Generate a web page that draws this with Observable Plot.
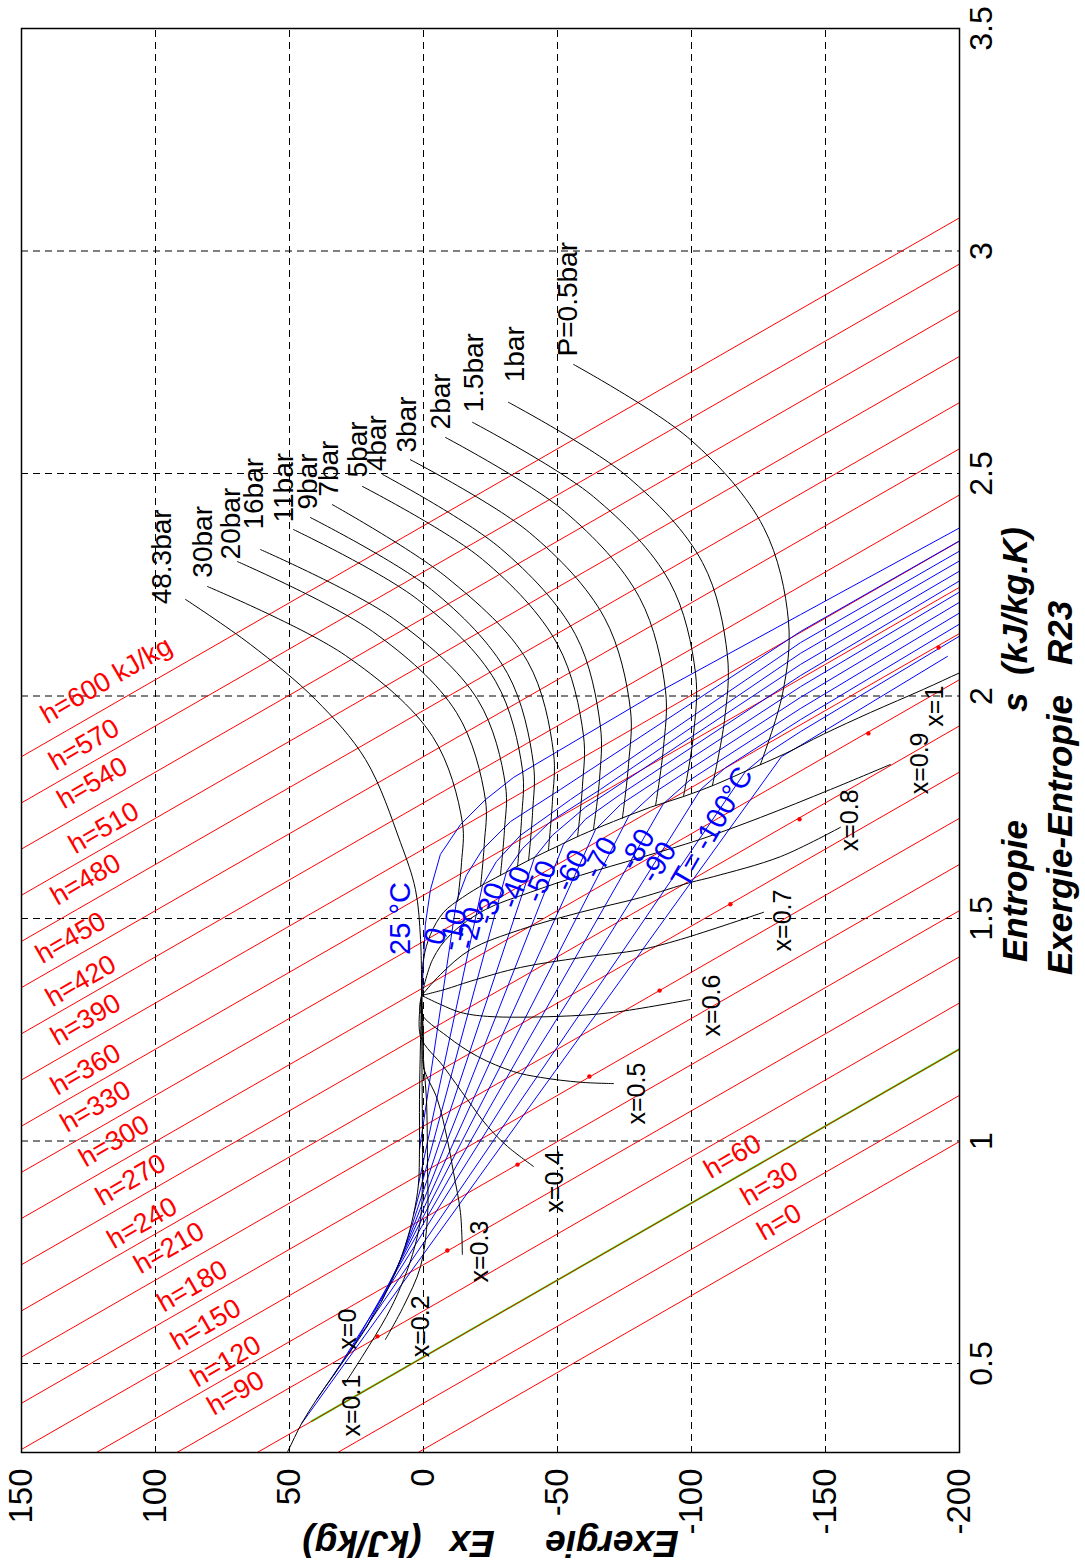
<!DOCTYPE html>
<html><head><meta charset="utf-8">
<script src="https://cdn.jsdelivr.net/npm/d3@7"></script>
<script src="https://cdn.jsdelivr.net/npm/@observablehq/plot@0.6"></script>
<style>
html,body{margin:0;padding:0;background:#fff;}
body{width:1085px;height:1565px;overflow:hidden;position:relative;font-family:"Liberation Sans",Arial,sans-serif;}
#rot{position:absolute;left:0;top:0;width:1565px;height:1085px;transform-origin:0 0;transform:translate(0px,1565px) rotate(-90deg);}
#rot svg{position:absolute;left:0;top:0;}
.ttl{position:absolute;font-weight:bold;font-style:italic;font-size:35px;white-space:pre;color:#000;line-height:1;}
</style></head><body>
<div id="rot"></div>
<script>
// ---------- axes ----------
const sTicks = [0.5, 1, 1.5, 2, 2.5, 3, 3.5];
const exTicks = [-200, -150, -100, -50, 0, 50, 100, 150];

// ---------- isenthalps (straight lines, Ex at s=0.3 and s=3.5) ----------
const hLevels = [0,30,60,90,120,150,180,210,240,270,300,330,360,390,420,450,480,510,540,570,600];
const hExAtLowS = [2,32,62,92,122,152,182,212,242,272,302,332,362,392,422,452,482,512,542,572,602];
const hExAtHighS = [-923,-893,-863,-833,-803,-773,-743,-713,-683,-653,-623,-593,-563,-533,-503,-473,-443,-413,-383,-353,-323];
const hLowS = 0.3, hHighS = 3.5;
const hLabels = ["h=0","h=30","h=60","h=90","h=120","h=150","h=180","h=210","h=240","h=270","h=300","h=330","h=360","h=390","h=420","h=450","h=480","h=510","h=540","h=570","h=600 kJ/kg"];
const hLabelS = [0.775,0.853,0.914,0.382,0.445,0.528,0.614,0.700,0.756,0.853,0.940,1.018,1.101,1.213,1.300,1.397,1.528,1.644,1.745,1.831,1.936];
const hLabelEx = [-127.0,-120.8,-107.1,78.3,84.4,91.9,96.9,105.6,115.6,119.9,126.1,133.0,136.7,136.7,138.5,142.3,136.7,129.9,134.2,137.3,140.4];
const greenS = [0.37, 1.21];
const greenEx = [41.8, -201.0];

// ---------- isobars [s, Ex] ----------
const p0_5 = [[2.745,-56.0],[2.576,-99.6],[2.379,-126.9],[2.167,-136.2],[2.006,-134.0],[1.846,-125.7]];
const p1   = [[2.660,-31.7],[2.493,-76.1],[2.300,-104.1],[2.091,-113.4],[1.945,-112.3],[1.799,-107.8]];
const p1_5 = [[2.615,-18.3],[2.448,-63.4],[2.257,-91.8],[2.051,-101.5],[1.911,-100.7],[1.774,-97.0]];
const p2   = [[2.581,-8.2],[2.415,-52.6],[2.221,-80.6],[2.012,-90.3],[1.882,-89.5],[1.754,-86.6]];
const p3   = [[2.531,4.9],[2.367,-39.6],[2.176,-67.5],[1.970,-77.2],[1.846,-76.5],[1.725,-74.2]];
const p4   = [[2.498,15.3],[2.332,-28.7],[2.138,-56.7],[1.932,-66.0],[1.815,-65.7],[1.700,-63.4]];
const p5   = [[2.471,22.8],[2.307,-22.0],[2.116,-50.0],[1.911,-59.7],[1.797,-59.3],[1.684,-57.5]];
const p7   = [[2.430,34.0],[2.266,-8.8],[2.078,-38.8],[1.873,-48.5],[1.763,-48.1],[1.653,-46.6]];
const p9   = [[2.401,42.2],[2.239,-3.0],[2.051,-31.3],[1.848,-41.0],[1.738,-40.7],[1.630,-39.2]];
const p11  = [[2.374,48.5],[2.217,2.2],[2.033,-26.9],[1.835,-36.9],[1.725,-36.6],[1.617,-35.1]];
const p16  = [[2.329,60.8],[2.174,11.2],[1.992,-20.2],[1.799,-30.6],[1.698,-30.2],[1.597,-28.7]];
const p20  = [[2.302,69.4],[2.145,19.0],[1.963,-12.3],[1.767,-23.1],[1.669,-22.7],[1.572,-21.3]];
const p30  = [[2.246,80.6],[2.091,29.1],[1.909,-3.4],[1.716,-14.5],[1.626,-14.2],[1.538,-12.7]];
const p48_3= [[2.217,88.8],[2.116,64.6],[1.992,40.3],[1.857,21.6],[1.671,8.6],[1.565,3.0],[1.453,1.1],[1.329,0.7]];
const pLabels = ["P=0.5bar","1bar","1.5bar","2bar","3bar","4bar","5bar","7bar","9bar","11bar","16bar","20bar","30bar","48.3bar"];
const pLabelS = [2.763,2.705,2.637,2.599,2.547,2.505,2.491,2.448,2.419,2.390,2.374,2.307,2.266,2.206];
const pLabelEx = [-54.1,-34.3,-19.0,-6.7,6.3,17.2,24.6,35.1,42.9,51.9,63.4,72.0,82.1,97.4];

// ---------- isotherms [s, Ex] ----------
const t25   = [[1.318,0.7],[1.403,0.0],[1.487,-0.7],[1.565,-2.6],[1.644,-6.3],[1.711,-13.8],[1.767,-23.1],[1.817,-33.6],[1.999,-84.7],[2.183,-140.7],[2.379,-200.4]];
const t0    = [[0.981,1.5],[1.538,-12.3],[1.597,-16.0],[1.655,-22.0],[1.718,-32.5],[1.790,-51.1],[2.145,-140.7],[2.350,-200.4]];
const tm10  = [[0.902,1.9],[1.574,-22.0],[1.628,-27.2],[1.687,-36.2],[1.767,-54.8],[2.120,-140.7],[2.327,-200.4]];
const tm20  = [[0.835,3.7],[1.606,-31.0],[1.657,-36.9],[1.718,-47.4],[1.790,-66.0],[2.096,-140.7],[2.305,-200.4]];
const tm30  = [[0.767,6.7],[1.637,-41.4],[1.687,-48.1],[1.750,-60.4],[2.071,-140.7],[2.282,-200.4]];
const tm40  = [[0.700,10.8],[1.666,-52.2],[1.723,-60.4],[1.779,-73.5],[2.046,-140.7],[2.260,-200.4]];
const tm50  = [[0.639,15.7],[1.700,-64.2],[1.756,-73.5],[1.808,-86.6],[2.021,-140.7],[2.235,-200.4]];
const tm60  = [[0.581,21.3],[1.729,-76.5],[1.785,-86.6],[1.997,-140.7],[2.212,-200.4]];
const tm70  = [[0.527,27.3],[1.758,-89.5],[1.812,-99.6],[1.972,-140.7],[2.188,-200.4]];
const tm80  = [[0.473,33.6],[1.790,-103.4],[1.839,-112.7],[1.947,-140.7],[2.163,-200.4]];
const tm90  = [[0.419,39.9],[1.830,-120.1],[1.873,-128.7],[1.920,-140.7],[2.136,-200.4]];
const tm100 = [[0.365,45.5],[1.864,-133.6],[1.889,-140.7],[2.089,-195.5]];
const tLabels = ["25 °C","0","-10","-20","-30","-40","-50","-60","-70","-80","-90","T= -100°C"];
const tLabelS = [1.500,1.460,1.475,1.478,1.534,1.570,1.583,1.608,1.637,1.655,1.626,1.705];
const tLabelEx = [8.6,-4.5,-11.2,-17.5,-25.0,-34.3,-43.7,-55.2,-66.0,-79.8,-87.7,-107.8];
const tLabelAngle = [0,15,12,14,18,20,22,26,28,30,32,30];

// ---------- quality lines [s, Ex] ----------
const xq0  = [[1.329,0.7],[1.228,1.1],[1.093,1.5],[0.981,1.5],[0.902,1.9],[0.835,3.7],[0.767,6.7],[0.700,10.8],[0.639,15.7],[0.581,21.3],[0.527,27.3],[0.473,33.6],[0.419,39.9],[0.365,45.5],[0.302,50.7],[0.251,55.2]];
const xq01 = [[1.323,0.7],[1.183,0.6],[1.037,0.4],[0.914,0.4],[0.824,1.1],[0.745,4.1],[0.671,8.6],[0.606,13.8],[0.516,22.8],[0.457,29.1]];
const xq02 = [[1.325,0.7],[1.183,0.0],[1.093,-1.1],[0.943,-1.5],[0.830,-1.5],[0.718,1.1],[0.628,7.5],[0.554,14.2]];
const xq03 = [[1.327,0.7],[1.228,0.0],[1.167,0.0],[1.093,-5.2],[1.003,-8.9],[0.929,-11.2],[0.839,-13.8],[0.745,-14.5]];
const xq04 = [[1.327,0.7],[1.235,1.1],[1.167,-7.5],[1.093,-16.4],[1.033,-23.9],[0.988,-31.3],[0.943,-41.0]];
const xq05 = [[1.327,0.7],[1.289,1.1],[1.235,-8.9],[1.190,-20.2],[1.156,-33.6],[1.143,-43.6],[1.132,-58.6],[1.129,-70.9]];
const xq06 = [[1.327,0.7],[1.307,-6.3],[1.289,-13.8],[1.280,-23.9],[1.280,-50.0],[1.289,-70.9],[1.318,-99.6]];
const xq07 = [[1.327,0.7],[1.341,-8.2],[1.359,-17.5],[1.390,-36.2],[1.412,-58.6],[1.430,-81.0],[1.453,-95.9],[1.514,-126.9]];
const xq08 = [[1.327,0.7],[1.374,-6.3],[1.430,-17.5],[1.475,-36.2],[1.514,-58.6],[1.547,-81.0],[1.581,-99.6],[1.594,-108.2],[1.639,-133.2],[1.705,-155.6]];
const xq09 = [[1.327,0.7],[1.408,-3.4],[1.464,-10.1],[1.520,-23.1],[1.559,-39.9],[1.597,-58.6],[1.637,-81.0],[1.678,-103.4],[1.727,-125.7],[1.790,-151.9],[1.846,-174.2]];
const xq1  = [[1.329,0.7],[1.408,0.0],[1.464,-2.6],[1.514,-7.5],[1.547,-14.5],[1.579,-23.1],[1.603,-30.6],[1.633,-39.9],[1.660,-49.2],[1.687,-58.6],[1.718,-70.9],[1.750,-84.7],[1.774,-97.0],[1.801,-108.9],[1.833,-120.9],[1.871,-135.1],[1.914,-149.2],[1.963,-166.8],[2.015,-186.6],[2.053,-200.4],[2.082,-211.6]];
const qLabels = ["x=0","x=0.1","x=0.2","x=0.3","x=0.4","x=0.5","x=0.6","x=0.7","x=0.8","x=0.9","x=1"];
const qLabelS = [0.531,0.336,0.514,0.682,0.839,1.037,1.235,1.426,1.651,1.779,1.931];
const qLabelEx = [28.0,26.5,1.1,-20.9,-49.2,-79.5,-107.8,-134.3,-159.3,-185.1,-190.7];
const dotS = [0.561,0.754,0.947,1.145,1.338,1.532,1.723,1.916,2.109];
const dotEx = [17.2,-8.9,-35.1,-61.9,-88.1,-114.5,-140.3,-166.0,-192.2];

// ---------- build tables ----------
const isobars = [p0_5,p1,p1_5,p2,p3,p4,p5,p7,p9,p11,p16,p20,p30,p48_3];
const isotherms = [t25,t0,tm10,tm20,tm30,tm40,tm50,tm60,tm70,tm80,tm90,tm100];
const qualities = [xq0,xq01,xq02,xq03,xq04,xq05,xq06,xq07,xq08,xq09,xq1];
const redData = hLevels.flatMap((h,i)=>[{h,s:hLowS,ex:hExAtLowS[i]},{h,s:hHighS,ex:hExAtHighS[i]}]);
const greenData = greenS.map((s,i)=>({s,ex:greenEx[i]}));
const hLab = hLabels.map((t,i)=>({t,s:hLabelS[i],ex:hLabelEx[i]}));
const pLab = pLabels.map((t,i)=>({t,s:pLabelS[i],ex:pLabelEx[i]}));
const tLab = tLabels.map((t,i)=>({t,s:tLabelS[i],ex:tLabelEx[i],a:tLabelAngle[i]}));
const qLab = qLabels.map((t,i)=>({t,s:qLabelS[i],ex:qLabelEx[i]}));
const dots = dotS.map((s,i)=>({s,ex:dotEx[i]}));

const xy = {x:d=>d[0], y:d=>d[1]};
const curves = (list,o)=>list.map(c=>Plot.line(c,{...xy,clip:true,...o}));
const fmt = d=>String(d);

const chart = Plot.plot({
  width:1565, height:1085,
  marginLeft:112, marginRight:29, marginTop:21, marginBottom:126,
  style:{fontFamily:'"Liberation Sans", Arial, sans-serif', background:"white", overflow:"visible"},
  x:{domain:[0.3,3.5]},
  y:{domain:[-200,150]},
  marks:[
    Plot.gridX(sTicks,{stroke:"#000",strokeOpacity:1,strokeWidth:1,strokeDasharray:"7,5"}),
    Plot.gridY(exTicks,{stroke:"#000",strokeOpacity:1,strokeWidth:1,strokeDasharray:"7,5"}),
    Plot.line(greenData,{x:"s",y:"ex",stroke:"#00ff00",strokeWidth:1.8,clip:true}),
    Plot.line(redData,{x:"s",y:"ex",z:"h",stroke:"#ff0000",strokeWidth:1,clip:true}),
    ...curves(isotherms,{stroke:"#0000ff",strokeWidth:1}),
    ...curves(isobars,{stroke:"#000",strokeWidth:1,curve:"catmull-rom"}),
    ...curves(qualities,{stroke:"#000",strokeWidth:1,curve:"catmull-rom"}),
    Plot.dot(dots,{x:"s",y:"ex",r:2.2,fill:"#ff0000",stroke:null}),
    Plot.text(hLab,{x:"s",y:"ex",text:"t",rotate:60,textAnchor:"start",lineAnchor:"bottom",fill:"#ff0000",fontSize:27}),
    Plot.text(pLab,{x:"s",y:"ex",text:"t",textAnchor:"start",lineAnchor:"middle",fill:"#000",fontSize:28}),
    Plot.text(qLab,{x:"s",y:"ex",text:"t",textAnchor:"start",lineAnchor:"middle",fill:"#000",fontSize:25}),
    Plot.text(tLab,{x:"s",y:"ex",text:"t",rotate:"a",textAnchor:"middle",lineAnchor:"middle",fill:"#0000ff",fontSize:29}),
    Plot.frame({stroke:"#000",strokeWidth:1.5}),
    Plot.axisX(sTicks,{tickSize:0,tickPadding:10,fontSize:32,tickFormat:fmt,label:null}),
    Plot.axisY(exTicks,{tickSize:0,tickPadding:16,fontSize:33,tickFormat:fmt,label:null})
  ]
});
const rot = document.getElementById("rot");
rot.appendChild(chart);

function addTitle(txt,left,top,extra){
  const d=document.createElement("div");
  d.className="ttl"; d.textContent=txt;
  d.style.left=left+"px"; d.style.top=top+"px";
  if(extra) Object.assign(d.style,extra);
  rot.appendChild(d);
}
// x-axis title pieces (natural frame, below the entropy axis)
addTitle("Entropie",603,997);
addTitle("s",853,997);
addTitle("(kJ/kg.K)",890,997);
addTitle("Exergie-Entropie",590,1042);
addTitle("R23",900,1042);
// y-axis title pieces (rotated, reading bottom to top)
const yRot = {transform:"translate(-50%,-50%) rotate(-90deg)",transformOrigin:"50% 50%",fontSize:"37px"};
addTitle("Exergie",22,612,yRot);
addTitle("Ex",22,472,yRot);
addTitle("(kJ/kg)",22,362,yRot);
</script>
</body></html>
